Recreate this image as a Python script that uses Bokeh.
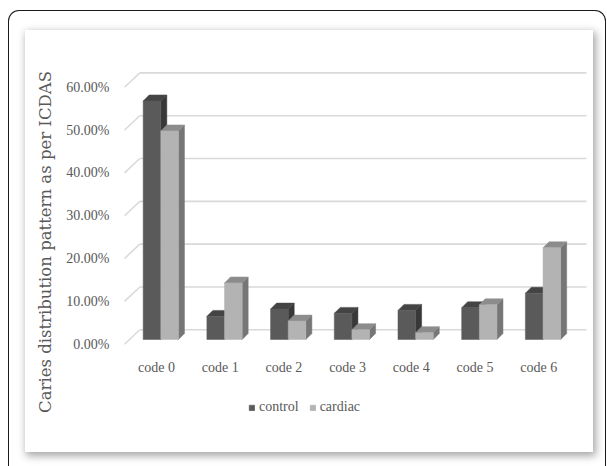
from bokeh.plotting import figure
from bokeh.models import Range1d, FixedTicker, PrintfTickFormatter, Legend, LegendItem, ColumnDataSource
from bokeh.layouts import column
from bokeh.embed import file_html
from bokeh.resources import INLINE

# ---------------- data ----------------
categories = ["code 0", "code 1", "code 2", "code 3", "code 4", "code 5", "code 6"]
control = [55.7, 5.4, 7.1, 6.1, 6.8, 7.4, 10.8]
cardiac = [48.7, 13.2, 4.3, 2.3, 1.6, 8.1, 21.4]
y_ticks = [0, 10, 20, 30, 40, 50, 60]
series_names = ["control", "cardiac"]
y_title = "Caries distribution pattern as per ICDAS"

# ---------------- style / geometry ----------------
X0, X1 = -0.565, 6.813
Y0, Y1 = -19.68, 67.41
BASE = 1.1            # bars sit a little behind the front axis line
DX, DY = 0.094, 1.4   # bar depth offset (data units)
GDX, GDY = 0.24, 3.36 # back-wall depth offset for gridlines
BAR_W = 0.277
BAR_L = -0.209
GRID_L, GRID_R = -0.502, 6.75
face = {"control": ("#5a5a5a", "#444444", "#383838"),
        "cardiac": ("#b3b3b3", "#8c8c8c", "#767676")}
TXT = "#595959"
FONT = "Liberation Serif"

p = figure(width=568, height=422, output_backend="svg", toolbar_location=None,
           x_range=Range1d(X0, X1), y_range=Range1d(Y0, Y1),
           min_border_left=95, min_border_right=3, min_border_top=25, min_border_bottom=24)
p.outline_line_color = None
p.background_fill_color = "white"
p.border_fill_color = "white"
p.xgrid.visible = False
p.ygrid.visible = False

# gridlines (back wall + slanted left wall edge)
gsrc = ColumnDataSource(dict(
    fx=[GRID_L] * len(y_ticks), fy=y_ticks,
    bx=[GRID_L + GDX] * len(y_ticks), by=[t + GDY for t in y_ticks],
    ex=[GRID_R] * len(y_ticks)))
p.segment(x0="fx", y0="fy", x1="bx", y1="by", source=gsrc, line_color="#d9d9d9", line_width=1.5)
p.segment(x0="bx", y0="by", x1="ex", y1="by", source=gsrc, line_color="#d9d9d9", line_width=1.6)

fronts = {}
for s, (name, vals) in enumerate(zip(series_names, [control, cardiac])):
    lefts = [i + BAR_L + s * BAR_W for i in range(len(vals))]
    rights = [l + BAR_W for l in lefts]
    tops = [BASE + v for v in vals]
    bottoms = [BASE] * len(vals)
    fc, tc, sc = face[name]
    top_xs = [[l, r, r + DX, l + DX] for l, r in zip(lefts, rights)]
    top_ys = [[t, t, t + DY, t + DY] for t in tops]
    side_xs = [[r, r + DX, r + DX, r] for r in rights]
    side_ys = [[b, b + DY, t + DY, t] for b, t in zip(bottoms, tops)]
    p.patches(xs=side_xs, ys=side_ys, fill_color=sc, line_color=sc, line_width=0.5)
    p.patches(xs=top_xs, ys=top_ys, fill_color=tc, line_color=tc, line_width=0.5)
    fronts[name] = p.quad(left=lefts, right=rights, bottom=bottoms, top=tops,
                          fill_color=fc, line_color=fc, line_width=0.5)

# y axis
ya = p.yaxis[0]
ya.ticker = FixedTicker(ticks=y_ticks)
ya.formatter = PrintfTickFormatter(format="%.2f%%")
ya.axis_line_color = None
ya.major_tick_line_color = None
ya.minor_tick_line_color = None
ya.major_label_standoff = 5
ya.major_label_text_font = FONT
ya.major_label_text_font_size = "14px"
ya.major_label_text_color = TXT
ya.axis_label = y_title
ya.axis_label_text_font = "DejaVu Serif"
ya.axis_label_text_font_size = "16.5px"
ya.axis_label_text_font_style = "normal"
ya.axis_label_text_color = TXT
ya.axis_label_standoff = 8

# x axis
xa = p.xaxis[0]
xa.ticker = FixedTicker(ticks=list(range(len(categories))))
xa.major_label_overrides = {i: c for i, c in enumerate(categories)}
xa.fixed_location = -1.47
xa.axis_line_color = None
xa.major_tick_line_color = None
xa.minor_tick_line_color = None
xa.major_label_standoff = 3
xa.major_label_text_font = FONT
xa.major_label_text_font_size = "14px"
xa.major_label_text_color = TXT

legend = Legend(items=[LegendItem(label=n, renderers=[fronts[n]]) for n in series_names],
                orientation="horizontal", location=(128, 13),
                glyph_width=7, glyph_height=7, label_standoff=4, spacing=10,
                label_text_font=FONT, label_text_font_size="14px", label_text_color=TXT,
                border_line_alpha=0, background_fill_alpha=0, padding=0, margin=0)
p.add_layout(legend, "center")

p.margin = (19, 0, 0, 16)
p.styles = {"box-shadow": "2px 3px 8px 1px rgba(0,0,0,0.35)"}

root = column(p, width=598, height=456, margin=(10, 0, 0, 8),
              styles={"border-top": "1.5px solid #1a1a1a", "border-left": "1.5px solid #1a1a1a",
                      "border-right": "1.5px solid #1a1a1a", "border-radius": "11px 11px 0 0",
                      "box-sizing": "border-box"})

open("out.html", "w").write(file_html(root, INLINE))
